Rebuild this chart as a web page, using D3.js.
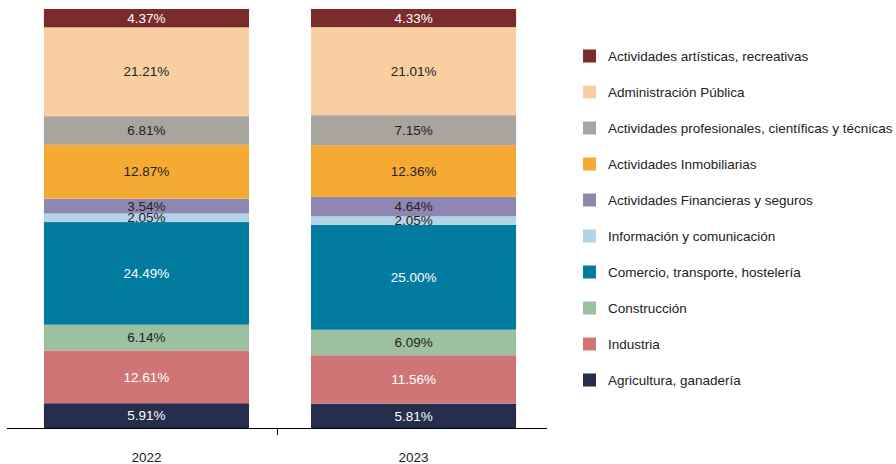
<!DOCTYPE html>
<html><head><meta charset="utf-8">
<script src="https://cdn.jsdelivr.net/npm/d3@7"></script>
<style>body{margin:0;background:#fff}svg{display:block;font-family:"Liberation Sans",Arial,sans-serif}</style>
</head><body><svg id="c" width="896" height="464"></svg>
<script>
const years = ["2022", "2023"];
const sectors = [
  "Agricultura, ganadería",
  "Industria",
  "Construcción",
  "Comercio, transporte, hostelería",
  "Información y comunicación",
  "Actividades Financieras y seguros",
  "Actividades Inmobiliarias",
  "Actividades profesionales, científicas y técnicas",
  "Administración Pública",
  "Actividades artísticas, recreativas"
];
const values2022 = [5.91, 12.61, 6.14, 24.49, 2.05, 3.54, 12.87, 6.81, 21.21, 4.37];
const values2023 = [5.81, 11.56, 6.09, 25.00, 2.05, 4.64, 12.36, 7.15, 21.01, 4.33];
const colors = ["#262d4d", "#cf7576", "#9cc1a0", "#017ba0", "#b3d4e6", "#8e87b0", "#f5ab33", "#a8a49e", "#f9cfa2", "#7a2c2c"];
const labelColors = ["#fff", "#fff", "#222", "#fff", "#222", "#222", "#222", "#222", "#222", "#fff"];

const svg = d3.select("#c");
const x = d3.scaleBand().domain(years).range([10, 550]).paddingInner(0.232).paddingOuter(0.127);
const y = d3.scaleLinear().domain([0, 100]).range([428, 9]);
const FS = 13.5;

const rows = years.map((yr, i) => {
  const o = {year: yr};
  const vals = i === 0 ? values2022 : values2023;
  sectors.forEach((s, j) => o[s] = vals[j]);
  return o;
});
const stack = d3.stack().keys(sectors)(rows);

const g = svg.append("g");
stack.forEach((layer, j) => {
  layer.forEach(d => {
    g.append("rect").attr("x", x(d.data.year)).attr("width", x.bandwidth())
      .attr("y", y(d[1])).attr("height", y(d[0]) - y(d[1]))
      .attr("fill", colors[j]);
  });
});
stack.forEach((layer, j) => {
  layer.forEach((d, i) => {
    const v = (i === 0 ? values2022 : values2023)[j];
    g.append("text").attr("x", x(d.data.year) + x.bandwidth() / 2).attr("y", (y(d[0]) + y(d[1])) / 2)
      .attr("dy", "0.35em").attr("text-anchor", "middle")
      .attr("font-size", FS).attr("fill", labelColors[j])
      .text(v.toFixed(2) + "%");
  });
});

// axis
const axisG = svg.append("g");
axisG.append("line").attr("x1", 7).attr("x2", 547).attr("y1", 428.5).attr("y2", 428.5).attr("stroke", "#000");
const tickPos = [277];
axisG.selectAll("line.t").data(tickPos).join("line").attr("class", "t")
  .attr("x1", d => d + 0.5).attr("x2", d => d + 0.5).attr("y1", 428).attr("y2", 435).attr("stroke", "#000");
axisG.selectAll("text").data(years).join("text")
  .attr("x", d => x(d) + x.bandwidth() / 2).attr("y", 457).attr("dy", "0.35em")
  .attr("text-anchor", "middle").attr("font-size", FS).attr("fill", "#222").text(d => d);

// legend
const legendOrder = sectors.map((s, j) => j).reverse();
const lg = svg.append("g");
legendOrder.forEach((j, k) => {
  const cy = 56 + k * 36;
  lg.append("rect").attr("x", 583).attr("y", cy - 6.5).attr("width", 13).attr("height", 13).attr("fill", colors[j]);
  lg.append("text").attr("x", 608).attr("y", cy).attr("dy", "0.35em").attr("font-size", FS).attr("fill", "#222").text(sectors[j]);
});
</script></body></html>
